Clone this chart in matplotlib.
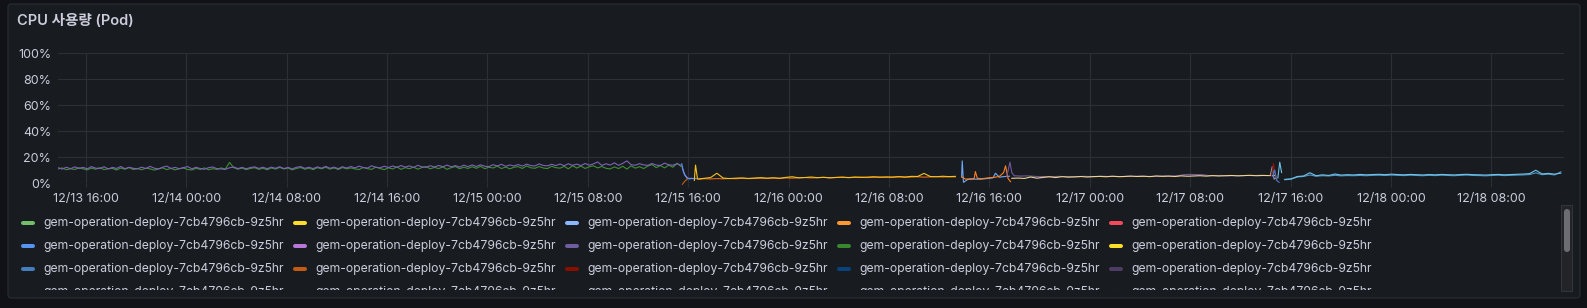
import numpy as np
import matplotlib
matplotlib.use("Agg")
import matplotlib.pyplot as plt
import matplotlib.dates as mdates
from matplotlib.patches import FancyBboxPatch, Rectangle
from datetime import datetime

plt.rcParams['font.family'] = ['Inter', 'Noto Sans CJK KR', 'DejaVu Sans']

W, H = 1587, 308
BASE = datetime(2024, 12, 13, 13, 47)   # left edge of the time range
SPAN_H = 120.0

title = "CPU 사용량 (Pod)"
pod_name = "gem-operation-deploy-7cb4796cb-9z5hr"
yticks = [0, 20, 40, 60, 80, 100]

# ---- phase 1: two pods, 20 min samples starting at hour 0 ----
green_start, green_step = 0.0, 1 / 3
green_vals = [
    10.8, 11.6, 10.2, 11.0, 10.4, 11.7, 10.9, 10.1, 11.4, 10.6,
    11.8, 10.3, 11.0, 11.2, 10.0, 11.5, 10.6, 11.9, 10.4, 11.1,
    10.2, 11.4, 10.9, 9.9, 10.8, 11.7, 10.3, 11.2, 10.1, 11.0,
    11.5, 10.4, 10.0, 11.3, 10.5, 11.6, 10.2, 11.0, 10.5, 11.6,
    10.7, 15.8, 11.8, 10.6, 11.5, 10.3, 11.2, 11.8, 10.5, 11.4,
    10.2, 11.6, 10.7, 12.0, 10.8, 11.5, 10.1, 11.2, 11.9, 10.6,
    11.4, 10.3, 11.8, 10.9, 12.1, 10.7, 11.6, 10.4, 11.9, 10.9,
    11.6, 10.8, 10.4, 12.0, 11.0, 10.5, 12.3, 11.1, 10.3, 11.7,
    10.8, 12.4, 10.5, 11.8, 11.0, 12.2, 10.6, 11.9, 12.6, 10.9,
    12.0, 11.1, 12.4, 10.5, 11.8, 12.7, 11.0, 12.1, 11.2, 12.5,
    11.3, 12.8, 11.0, 12.2, 11.5, 13.0, 11.1, 12.3, 10.9, 12.1,
    12.6, 11.2, 13.1, 11.7, 11.3, 12.7, 11.5, 11.1, 12.9, 11.8,
    11.4, 12.8, 10.9, 13.3, 11.5, 13.0, 11.2, 12.5, 13.2, 11.6,
    12.7, 11.3, 10.8, 12.4, 11.1, 12.9, 10.7, 13.2, 11.4, 12.6,
    11.1, 13.0, 14.2, 11.8, 13.4, 11.6, 13.7, 12.1, 15.2, 12.5,
]
purple_start, purple_step = 0.0, 1 / 3
purple_vals = [
    11.8, 10.7, 12.1, 11.0, 12.4, 11.2, 12.0, 10.9, 12.6, 11.4,
    11.1, 12.5, 10.8, 12.0, 11.2, 12.7, 11.0, 12.1, 11.3, 10.9,
    12.2, 11.1, 12.8, 11.4, 10.8, 12.1, 13.0, 11.2, 12.0, 11.0,
    11.9, 12.6, 10.9, 12.1, 11.1, 10.6, 11.8, 12.3, 11.0, 10.8,
    10.5, 11.7, 12.3, 11.1, 12.0, 10.9, 11.9, 12.4, 11.2, 12.1,
    11.0, 12.2, 11.3, 12.5, 11.1, 12.0, 10.8, 12.1, 12.6, 11.3,
    12.1, 11.1, 12.4, 11.4, 12.8, 11.3, 12.2, 11.0, 12.5, 11.5,
    12.7, 11.6, 13.0, 11.8, 11.5, 13.3, 12.0, 11.7, 12.9, 11.9,
    13.1, 12.0, 13.4, 12.2, 13.2, 11.9, 13.6, 12.4, 12.1, 13.3,
    12.3, 13.5, 12.5, 13.8, 12.4, 13.4, 12.2, 13.7, 12.6, 13.9,
    12.7, 14.0, 12.9, 12.6, 14.1, 13.0, 14.4, 12.8, 13.9, 13.1,
    14.2, 13.0, 14.5, 13.4, 13.1, 14.7, 13.5, 13.2, 14.4, 13.4,
    14.6, 13.3, 14.8, 13.6, 14.5, 13.4, 15.0, 13.7, 14.7, 16.2,
    13.5, 14.8, 13.8, 15.5, 13.6, 15.1, 17.0, 14.0, 13.7, 14.9,
    13.9, 13.6, 15.0, 13.8, 13.5, 15.3, 14.0, 13.7, 14.8, 13.6,
]

# ---- switch 1 -> 2 (explicit hour / value pairs) ----
blue_a_h = [49.7, 49.85, 50.1, 50.3, 50.6, 50.9]
blue_a_v = [14.8, 8.0, 3.8, 3.2, 3.5, 3.3]
lav_a_h = [49.75, 49.95, 50.2, 50.5]
lav_a_v = [11.5, 6.0, 3.5, 3.6]
dorange_a_h = [49.75, 49.95, 50.15]
dorange_a_v = [-1.0, 1.5, 3.0]
yellow_spike_h = [50.7, 50.8, 50.95]
yellow_spike_v = [2.0, 13.8, 3.5]

# ---- phase 2: 30 min samples ----
yellow_start, yellow_step = 51.0, 0.5
yellow_vals = [
    3.0, 3.6, 4.2, 7.5, 3.8, 3.4, 3.7, 3.9, 3.5, 3.8,
    4.1, 3.7, 4.0, 3.6, 4.3, 4.8, 4.0, 4.2, 4.6, 4.1,
    4.4, 4.0, 4.3, 4.5, 4.2, 4.6, 4.3, 4.5, 4.8, 4.4,
    4.7, 4.5, 4.9, 4.6, 5.1, 5.0, 7.4, 5.0, 4.8, 5.2,
    4.9, 5.1,
]
orange_start, orange_step = 51.0, 0.5
orange_vals = [
    3.0, 3.3, 3.1, 3.4, 3.2, 3.5, 3.3, 3.6, 3.4, 3.5,
    3.7, 3.5, 3.8, 3.6, 3.9, 3.7, 4.0, 4.2, 3.9, 4.1,
    4.3, 4.0, 4.2, 4.4, 4.1, 4.3, 4.5, 4.2, 4.4, 4.6,
    4.3, 4.5, 4.7, 4.4, 4.6, 4.8, 4.5, 4.7, 4.9, 4.6,
    4.8, 4.7,
]

# ---- switch 2 -> 3 ----
blue_b_h = [72.0, 72.05, 72.15, 72.5, 73.0, 73.5, 74.0, 74.5, 74.7, 75.0, 75.5, 75.8]
blue_b_v = [4.8, 17.0, 0.5, 2.8, 3.0, 2.9, 3.4, 4.0, 7.5, 4.5, 5.0, 5.2]
orange_b_h = [72.0, 72.3, 72.7, 73.0, 73.1, 73.25, 73.6, 74.0, 74.5, 75.0, 75.35, 75.5, 75.7, 75.9]
orange_b_v = [4.7, 3.0, 3.2, 3.4, 8.8, 3.6, 3.3, 3.8, 4.2, 5.0, 8.0, 13.2, 3.5, 1.0]
purple_b_h = [75.6, 75.85, 76.0, 76.2]
purple_b_v = [5.0, 16.0, 8.0, 5.6]

# ---- phase 3 ----
cream_start, cream_step = 76.0, 0.5
cream_vals = [
    3.6, 3.8, 3.5, 4.6, 3.7, 4.3, 4.8, 4.2, 4.9, 4.5,
    4.7, 5.0, 4.6, 4.9, 5.1, 4.8, 5.2, 4.9, 5.0, 5.3,
    5.0, 5.2, 4.9, 5.4, 5.1, 5.3, 5.0, 5.5, 5.2, 5.4,
    5.6, 5.3, 5.7, 5.4, 5.6, 5.8, 5.5, 5.7, 5.9, 5.6,
    5.8, 5.7, 5.9,
]
purple3_start, purple3_step = 76.2, 0.5
purple3_vals = [
    5.6, 5.3, 5.5, 5.2, 4.9, 5.0, 4.8, 5.1, 4.9, 5.0,
    4.8, 5.1, 5.0, 4.9, 5.2, 5.0, 5.1, 4.9, 5.2, 5.0,
    5.3, 5.1, 5.0, 5.2, 5.4, 5.3, 5.5, 6.4, 6.6, 6.5,
    6.4, 5.7, 5.6, 5.8, 5.5, 5.7, 5.6, 5.8, 5.7, 5.9,
    5.8,
]

# ---- switch 3 -> 4 ----
dred_h = [96.7, 96.85, 97.0, 97.2]
dred_v = [5.5, 15.0, 6.0, 1.0]
gray_h = [96.6, 96.75, 96.9, 97.1]
gray_v = [5.8, 12.5, 3.0, 4.0]
blue_c_h = [96.8, 96.95, 97.1, 97.3]
blue_c_v = [5.0, 10.0, 2.0, 0.5]
cyan_spike_h = [97.2, 97.35, 97.5]
cyan_spike_v = [4.0, 16.0, 8.0]

# ---- phase 4 ----
cyan_start, cyan_step = 97.75, 0.5
cyan_vals = [
    2.8, 3.2, 5.0, 5.4, 7.9, 5.6, 6.3, 5.8, 6.9, 6.1,
    6.4, 6.2, 6.6, 6.3, 6.5, 6.7, 6.4, 6.8, 6.5, 6.3,
    6.6, 6.4, 6.2, 6.5, 6.3, 6.6, 6.4, 6.2, 6.5, 6.7,
    6.4, 6.3, 6.1, 6.4, 6.6, 6.3, 6.5, 6.7, 6.9, 7.2,
    9.8, 7.0, 7.4, 6.8, 7.6,
]
cyan2_start, cyan2_step = 97.75, 0.5
cyan2_vals = [
    2.5, 2.9, 4.6, 5.0, 6.2, 5.2, 5.6, 5.4, 5.9, 5.5,
    5.7, 5.6, 5.8, 5.6, 5.9, 6.0, 5.8, 6.1, 5.9, 5.7,
    6.0, 5.8, 5.6, 5.9, 5.7, 6.0, 5.8, 5.6, 5.9, 6.1,
    5.8, 5.7, 5.5, 5.8, 6.0, 5.7, 5.9, 6.1, 6.2, 6.5,
    7.8, 6.4, 6.8, 6.2, 8.6,
]

legend_colors = [
    "#73bf69", "#fade2a", "#8ab8ff", "#ff9830", "#f2495c",
    "#5794f2", "#b877d9", "#705da0", "#37872d", "#fade2a",
    "#447ebc", "#c15c17", "#890f02", "#0a437c", "#4d3d66",
    "#584477", "#052b51", "#511749", "#3f2b5b", "#e0f9d7",
]

BG = "#111217"
PANEL = "#181b1f"
GRID = "#2c2f35"
TEXT = "#ccccdc"

base_num = mdates.date2num(BASE)


def to_x(hours):
    return base_num + np.asarray(hours, dtype=float) / 24.0


def regular(start, step, vals):
    return to_x(start + step * np.arange(len(vals))), np.asarray(vals)


fig = plt.figure(figsize=(W / 100, H / 100), dpi=100, facecolor=BG)

# pixel overlay for panel, title, scrollbar
bg = fig.add_axes([0, 0, 1, 1], zorder=0)
bg.set_xlim(0, W)
bg.set_ylim(H, 0)
bg.axis("off")
bg.add_patch(FancyBboxPatch((8, 4), 1572, 294, boxstyle="round,pad=0,rounding_size=3",
                            fc=PANEL, ec="#2a2d33", lw=0.8))
bg.text(17, 21, title, color=TEXT, fontsize=10.5, fontweight="semibold",
        va="center", ha="left")
# scrollbar
bg.add_patch(Rectangle((1561, 205), 11, 86, fc="#222428", ec="#34363c", lw=0.7))
bg.add_patch(FancyBboxPatch((1564, 209), 6, 43, boxstyle="round,pad=0,rounding_size=3",
                            fc="#6b6d73", ec="none"))

# time series axes
L, R, T, B = 58, 1564, 53, 183
ax = fig.add_axes([L / W, 1 - B / H, (R - L) / W, (B - T) / H], zorder=2)
ax.set_facecolor("none")

lw = 0.8
series = [
    (regular(green_start, green_step, green_vals), "#3c9132"),
    (regular(purple_start, purple_step, purple_vals), "#7f62bb"),
    ((to_x(lav_a_h), lav_a_v), "#b877d9"),
    ((to_x(blue_a_h), blue_a_v), "#5794f2"),
    ((to_x(yellow_spike_h), yellow_spike_v), "#f5c21f"),
    (regular(orange_start, orange_step, orange_vals), "#e2691a"),
    (regular(yellow_start, yellow_step, yellow_vals), "#f5c21f"),
    ((to_x(blue_b_h), blue_b_v), "#6fa8f7"),
    ((to_x(orange_b_h), orange_b_v), "#ff7f1f"),
    ((to_x(purple_b_h), purple_b_v), "#6e5a9e"),
    (regular(purple3_start, purple3_step, purple3_vals), "#6e5a9e"),
    (regular(cream_start, cream_step, cream_vals), "#f0d38d"),
    ((to_x(gray_h), gray_v), "#9d9fa6"),
    ((to_x(dred_h), dred_v), "#8f1208"),
    ((to_x(blue_c_h), blue_c_v), "#3d78d0"),
    (regular(cyan2_start, cyan2_step, cyan2_vals), "#4f97c7"),
    ((to_x(cyan_spike_h), cyan_spike_v), "#72c2e8"),
    (regular(cyan_start, cyan_step, cyan_vals), "#72c2e8"),
]
for (xs, ys), c in series:
    ax.plot(xs, ys, color=c, lw=lw)
ax.plot(to_x(dorange_a_h), dorange_a_v, color="#c15c17", lw=lw, clip_on=False)

ax.set_xlim(base_num, base_num + SPAN_H / 24)
ax.set_ylim(0, 100)
ax.set_yticks(yticks)
ax.set_yticklabels([f"{v}%" for v in yticks])
ax.xaxis.set_major_locator(mdates.HourLocator(byhour=[0, 8, 16]))
ax.xaxis.set_major_formatter(mdates.DateFormatter("%m/%d %H:%M"))
ax.grid(True, color=GRID, lw=0.8)
for s in ax.spines.values():
    s.set_visible(False)
ax.tick_params(axis="x", length=3, color=GRID, width=0.8, pad=4.5, labelsize=9, labelcolor=TEXT)
ax.tick_params(axis="y", length=0, pad=5, labelsize=9, labelcolor=TEXT)

# legend (clipped list, as in the scrolling panel)
LG_T, LG_B, LG_L, LG_R = 208, 290, 8, 1556
lg = fig.add_axes([LG_L / W, 1 - LG_B / H, (LG_R - LG_L) / W, (LG_B - LG_T) / H], zorder=3)
lg.set_xlim(LG_L, LG_R)
lg.set_ylim(LG_B, LG_T)
lg.axis("off")
col_x = [21, 293, 565, 837, 1109]
row_y = [223, 246, 269, 292]
for i, c in enumerate(legend_colors):
    r, k = divmod(i, 5)
    x0, y0 = col_x[k], row_y[r]
    lg.plot([x0 + 2, x0 + 12], [y0, y0], color=c, lw=2.9, solid_capstyle="round", clip_on=True)
    lg.text(x0 + 22, y0, pod_name, color=TEXT, fontsize=8.75, va="center", ha="left", clip_on=True)

fig.savefig("out.png", dpi=100, facecolor=BG)
